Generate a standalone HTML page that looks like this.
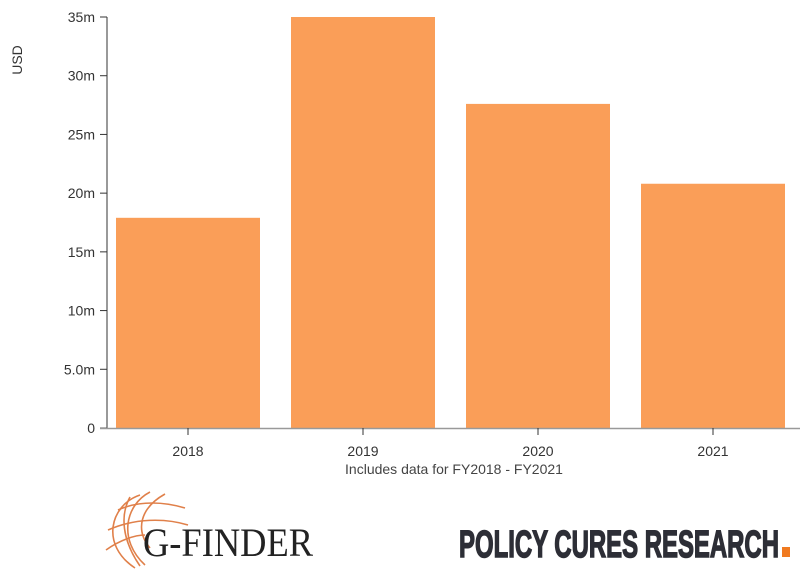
<!DOCTYPE html>
<html><head><meta charset="utf-8"><style>
html,body{margin:0;padding:0;background:#fff;width:808px;height:588px;overflow:hidden}
svg{display:block;font-family:"Liberation Sans",sans-serif}
</style></head><body>
<svg id="chart" width="808" height="588">
<g id="bars"></g><g id="yaxis"></g><g id="xaxis"></g>
<text x="22" y="60" transform="rotate(-90 22 60)" text-anchor="middle" font-size="14" fill="#333">USD</text>
<text x="454" y="474" text-anchor="middle" font-size="14" fill="#444">Includes data for FY2018 - FY2021</text>
<g fill="none" stroke="#e0804a" stroke-width="1.6">
<path d="M140 495 C110 505 100 545 135 568"/>
<path d="M150 492 C125 505 118 540 145 565"/>
<path d="M165 494 C140 508 135 530 150 548"/>
<path d="M118 510 C140 500 165 502 185 508"/>
<path d="M108 530 C135 518 165 518 188 525"/>
<path d="M106 550 C120 540 135 535 145 535"/>
<path d="M130 497 C120 515 122 540 140 566"/>
<text x="143" y="556" font-family="'Liberation Serif',serif" font-size="40" fill="#222" stroke="none" textLength="170" lengthAdjust="spacingAndGlyphs">G-FINDER</text>
</g>
<text x="459" y="557" font-family="'Liberation Sans Narrow','Liberation Sans',sans-serif" font-weight="bold" font-size="38" fill="#2d2e36" stroke="#2d2e36" stroke-width="1.5" textLength="320" lengthAdjust="spacingAndGlyphs">POLICY CURES RESEARCH</text>
<rect x="782" y="547" width="8" height="10" fill="#f07a20"/>
</svg>
<script>
const categories=["2018","2019","2020","2021"];
const values=[17.9,35.0,27.6,20.8];
const yTicks=[0,5,10,15,20,25,30,35];
const yTickLabels=["0","5.0m","10m","15m","20m","25m","30m","35m"];
const NS="http://www.w3.org/2000/svg";
const x0=100.5,x1=800.5,yTop=17,yBot=428,yMax=35;
const step=(x1-x0)/categories.length,bw=144;
const y=v=>yBot-(v/yMax)*(yBot-yTop);
const xc=i=>x0+step*(i+0.5);
function mk(t,a,p){const e=document.createElementNS(NS,t);for(const k in a)e.setAttribute(k,a[k]);p.appendChild(e);return e;}
const gb=document.getElementById('bars'),gy=document.getElementById('yaxis'),gx=document.getElementById('xaxis');
values.forEach((v,i)=>{
const r=mk('rect',{x:xc(i)-bw/2,y:y(v),width:bw,height:yBot-y(v),fill:'#fa9e58'},gb);


});
const yl=mk('line',{x1:107,x2:107,y1:yTop,y2:yBot,stroke:'#333','stroke-width':1},gy);


yTicks.forEach((t,i)=>{
mk('line',{x1:100,x2:107,y1:y(t),y2:y(t),stroke:'#333'},gy);
const tx=mk('text',{x:95,y:y(t)+5,'text-anchor':'end','font-size':14,fill:'#333'},gy);
tx.textContent=yTickLabels[i];


});
const xl=mk('line',{x1:100,x2:800,y1:yBot+0.5,y2:yBot+0.5,stroke:'#999','stroke-width':1.5},gx);


categories.forEach((c,i)=>{
mk('line',{x1:xc(i),x2:xc(i),y1:yBot,y2:yBot+7,stroke:'#333'},gx);
const tx=mk('text',{x:xc(i),y:456,'text-anchor':'middle','font-size':14,fill:'#333'},gx);
tx.textContent=c;


});
</script>
</body></html>
